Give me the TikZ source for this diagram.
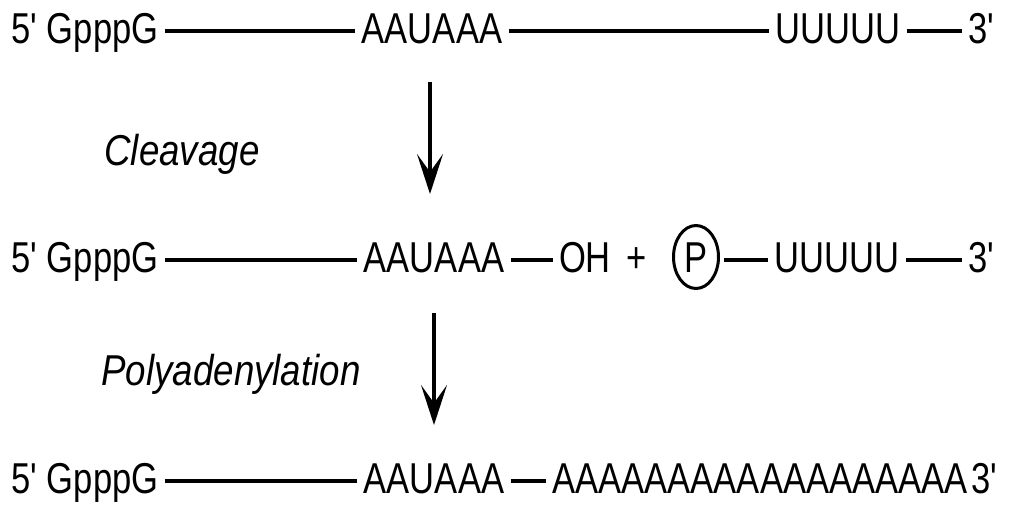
\documentclass[tikz,border=0pt]{standalone}
\usepackage{fontspec}
\newfontfamily\seqfont{Liberation Sans}[FakeStretch=0.8]
\newfontfamily\stepfont{Liberation Sans}[FakeStretch=0.85]
\usetikzlibrary{arrows.meta,shapes.geometric}

\begin{document}
\begin{tikzpicture}[
  x=0.5pt,y=-0.5pt,
  rnatext/.style={font=\seqfont\fontsize{21.6pt}{26pt}\selectfont,
    inner xsep=3pt,inner ysep=0pt,text height=16pt,text depth=4pt,
    anchor=base},
  rnaline/.style={line width=2pt},
  steplabel/.style={font=\stepfont\itshape\fontsize{21.6pt}{26pt}\selectfont,
    anchor=base},
  stagearrow/.style={-{Stealth[length=20pt,width=13pt,inset=9pt]},
    line width=1.6pt},
  phosphate/.style={draw,ellipse,line width=1.5pt,inner sep=0pt,
    minimum width=22.5pt,minimum height=31.5pt,outer xsep=2.5pt,
    font=\seqfont\fontsize{21.6pt}{26pt}\selectfont,
    text height=15.5pt,text depth=0pt}
]
  \useasboundingbox (0,0) rectangle (1013,504);

  % precursor
  \node[rnatext] (cap1) at (85,43) {5' GpppG};
  \node[rnatext] (sig1) at (432,43) {AAUAAA};
  \node[rnatext] (uuu1) at (838,43) {UUUUU};
  \node[rnatext] (end1) at (981,43) {3'};
  \draw[rnaline] (cap1) -- (sig1);
  \draw[rnaline] (sig1) -- (uuu1);
  \draw[rnaline] (uuu1) -- (end1);

  \node[steplabel] (cleave) at (182,165) {Cleavage};
  \coordinate (cleavetop) at (430,82);
  \coordinate (cleavetip) at (430,194);
  \draw[stagearrow] (cleavetop) -- (cleavetip);

  % cleaved products
  \node[rnatext] (cap2) at (85,272) {5' GpppG};
  \node[rnatext] (sig2) at (434,272) {AAUAAA};
  \node[rnatext] (hydroxyl) at (585,272) {OH};
  \node[rnatext] (plus) at (637,272) {+};
  \node[phosphate] (pgroup) at (696,257) {P};
  \node[rnatext] (uuu2) at (837,272) {UUUUU};
  \node[rnatext] (end2) at (981,272) {3'};
  \draw[rnaline] (cap2) -- (sig2);
  \draw[rnaline] (sig2) -- (hydroxyl);
  \draw[rnaline] (pgroup.east |- uuu2) -- (uuu2);
  \draw[rnaline] (uuu2) -- (end2);

  \node[steplabel] (polya) at (231,385) {Polyadenylation};
  \coordinate (polyatop) at (434,313);
  \coordinate (polyatip) at (434,425);
  \draw[stagearrow] (polyatop) -- (polyatip);

  % mature mRNA
  \node[rnatext] (cap3) at (85,493) {5' GpppG};
  \node[rnatext] (sig3) at (434,493) {AAUAAA};
  \node[rnatext] (tail) at (760,493) {AAAAAAAAAAAAAAAAAA};
  \node[rnatext] (end3) at (984,493) {3'};
  \draw[rnaline] (cap3) -- (sig3);
  \draw[rnaline] (sig3) -- (tail);
\end{tikzpicture}
\end{document}
